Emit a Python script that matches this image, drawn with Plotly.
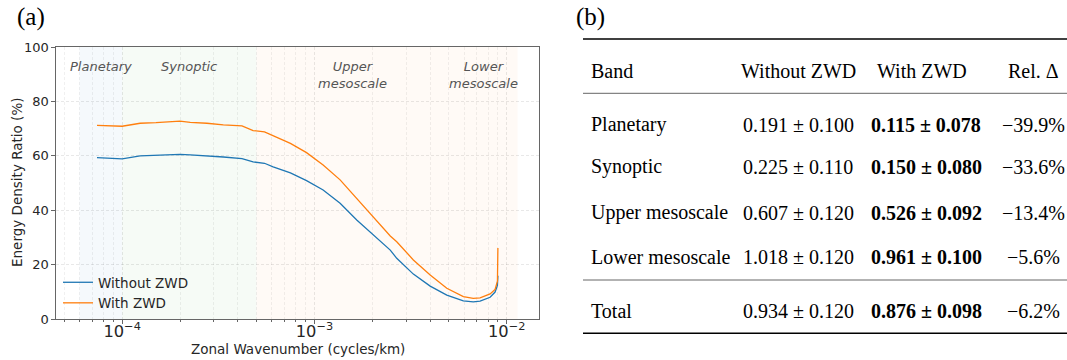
import math
import plotly.graph_objects as go

# ---------------- data (panel a) ----------------
wavenumber = [7.4e-5, 1.0e-4, 1.24e-4, 1.5e-4, 2.0e-4, 2.26e-4, 2.76e-4, 3.36e-4, 4.2e-4,
              4.8e-4, 5.5e-4, 6.1e-4, 7.5e-4, 9.1e-4, 1.11e-3, 1.36e-3, 1.66e-3, 2.03e-3,
              2.2e-3, 2.48e-3, 2.68e-3, 3.27e-3, 4.0e-3, 4.88e-3, 5.95e-3, 6.7e-3, 7.27e-3,
              8.2e-3, 8.7e-3, 8.95e-3, 9.0e-3]
ratio_without = [59.4, 58.9, 60.0, 60.3, 60.6, 60.4, 60.1, 59.6, 59.0,
                 57.8, 57.3, 56.0, 53.8, 50.9, 47.5, 42.6, 36.5, 31.0,
                 28.9, 25.4, 22.4, 16.6, 12.2, 8.9, 6.8, 6.4, 6.7,
                 8.1, 10.0, 12.5, 16.0]
ratio_with = [71.2, 70.9, 72.0, 72.2, 72.8, 72.3, 72.0, 71.4, 71.0,
              69.3, 68.8, 67.4, 64.6, 61.2, 56.7, 51.2, 44.4, 37.7,
              35.0, 30.6, 28.5, 21.8, 16.3, 11.4, 8.3, 7.7, 7.9,
              9.3, 11.0, 14.0, 26.2]

band_labels = ["Planetary", "Synoptic", "Upper<br>mesoscale", "Lower<br>mesoscale"]
band_edges = [6e-5, 1e-4, 5e-4, 5e-3, 1.14e-2]
band_fills = ["rgba(31,119,180,0.045)", "rgba(44,160,44,0.045)",
              "rgba(255,127,14,0.035)", "rgba(255,127,14,0.035)"]

y_ticks = [0, 20, 40, 60, 80, 100]
x_title = "Zonal Wavenumber (cycles/km)"
y_title = "Energy Density Ratio (%)"

# ---------------- data (panel b) ----------------
table_bands = ["Planetary", "Synoptic", "Upper mesoscale", "Lower mesoscale", "Total"]
without_mean = [0.191, 0.225, 0.607, 1.018, 0.934]
without_std = [0.100, 0.110, 0.120, 0.120, 0.120]
with_mean = [0.115, 0.150, 0.526, 0.961, 0.876]
with_std = [0.078, 0.080, 0.092, 0.100, 0.098]
rel_delta = [-39.9, -33.6, -13.4, -5.6, -6.2]
table_headers = ["Band", "Without ZWD", "With ZWD", "Rel. Δ"]

W, H = 1067, 360
def px(x):
    return x / W
def py(y):
    return 1 - y / H

fig = go.Figure()

fig.add_trace(go.Scatter(x=wavenumber, y=ratio_without, mode="lines", name="Without ZWD",
                         line=dict(color="#1f77b4", width=1.3)))
fig.add_trace(go.Scatter(x=wavenumber, y=ratio_with, mode="lines", name="With ZWD",
                         line=dict(color="#ff7f0e", width=1.3)))

shapes = []
annotations = []
for i in range(len(band_labels)):
    shapes.append(dict(type="rect", xref="x", yref="y", x0=band_edges[i], x1=band_edges[i + 1],
                       y0=0, y1=100, fillcolor=band_fills[i], line=dict(width=0), layer="below"))
    gm = math.log10(math.sqrt(band_edges[i] * band_edges[i + 1]))
    annotations.append(dict(x=gm, y=96.2, xref="x", yref="y", text="<i>" + band_labels[i] + "</i>",
                            showarrow=False, xanchor="center", yanchor="top",
                            font=dict(family="DejaVu Sans", size=13, color="#555555")))

# axis titles
annotations.append(dict(x=px(297.5), y=py(348.5), xref="paper", yref="paper", text=x_title, showarrow=False,
                        xanchor="center", yanchor="middle", font=dict(family="DejaVu Sans", size=13.5, color="#262626")))
annotations.append(dict(x=px(17), y=py(183), xref="paper", yref="paper", text=y_title, showarrow=False,
                        textangle=-90, xanchor="center", yanchor="middle",
                        font=dict(family="DejaVu Sans", size=13.5, color="#262626")))

serif = "Liberation Serif"
fs = 20
annotations.append(dict(x=px(31), y=py(17), xref="paper", yref="paper", text="(a)", showarrow=False,
                        xanchor="center", yanchor="middle", font=dict(family=serif, size=25, color="black")))
annotations.append(dict(x=px(590), y=py(17), xref="paper", yref="paper", text="(b)", showarrow=False,
                        xanchor="center", yanchor="middle", font=dict(family=serif, size=25, color="black")))

# table rules
shapes.append(dict(type="line", xref="paper", yref="paper", x0=px(583), x1=px(1067), y0=py(39), y1=py(39),
                   line=dict(color="black", width=1.4)))
shapes.append(dict(type="line", xref="paper", yref="paper", x0=px(583), x1=px(1067), y0=py(93.3), y1=py(93.3),
                   line=dict(color="#555555", width=0.9)))
shapes.append(dict(type="line", xref="paper", yref="paper", x0=px(583), x1=px(1067), y0=py(280), y1=py(280),
                   line=dict(color="#555555", width=0.9)))
shapes.append(dict(type="line", xref="paper", yref="paper", x0=px(583), x1=px(1067), y0=py(333.3), y1=py(333.3),
                   line=dict(color="black", width=1.4)))

col_x = [589, 798, 926, 1033]
col_anchor = ["left", "center", "center", "center"]
header_x = [589, 798, 921.7, 1033]

def txt(x, y, s, anchor):
    annotations.append(dict(x=px(x), y=py(y), xref="paper", yref="paper", text=s, showarrow=False,
                            xanchor=anchor, yanchor="middle", font=dict(family=serif, size=fs, color="black")))

hy = 71.5
for j, h in enumerate(table_headers):
    txt(header_x[j], hy, h, col_anchor[j])

row_y = [124.5, 166.5, 212.5, 256.5, 311]
for i, b in enumerate(table_bands):
    y = row_y[i]
    txt(col_x[0], y, b, "left")
    txt(col_x[1], y, f"{without_mean[i]:.3f} ± {without_std[i]:.3f}", "center")
    txt(col_x[2], y, f"<b>{with_mean[i]:.3f} ± {with_std[i]:.3f}</b>", "center")
    txt(col_x[3], y, f"{rel_delta[i]:.1f}%".replace("-", "−"), "center")

grid_col = "rgba(0,0,0,0.09)"
fig.update_layout(
    width=W, height=H, margin=dict(l=0, r=0, t=0, b=0, autoexpand=False),
    paper_bgcolor="white", plot_bgcolor="white",
    font=dict(family="DejaVu Sans", size=13, color="#262626"),
    shapes=shapes, annotations=annotations,
    xaxis=dict(type="log", domain=[px(56), px(539)], range=[-4.344, -1.832], automargin=False,
               dtick=1, exponentformat="power", showexponent="all",
               showline=True, linecolor="#666666", linewidth=1.2, mirror=True,
               ticks="outside", ticklen=3.5, tickcolor="#666666", ticklabelstandoff=-6,
               showgrid=True, gridcolor=grid_col, griddash="3px,2px", gridwidth=0.8,
               minor=dict(dtick="D1", showgrid=True, gridcolor="rgba(0,0,0,0.06)", griddash="3px,2px",
                          ticks="outside", ticklen=2, tickcolor="#666666"),
               tickfont=dict(size=13), zeroline=False),
    yaxis=dict(domain=[py(319.3), py(47)], range=[0, 100], tickvals=y_ticks, automargin=False,
               showline=True, linecolor="#666666", linewidth=1.2, mirror=True,
               ticks="outside", ticklen=3.5, tickcolor="#666666",
               showgrid=True, gridcolor=grid_col, griddash="3px,2px", gridwidth=0.8,
               tickfont=dict(size=13), zeroline=False),
    legend=dict(x=px(58), y=py(267), xanchor="left", yanchor="top", bgcolor="rgba(0,0,0,0)",
                font=dict(size=13.5), itemwidth=30, tracegroupgap=0),
    showlegend=True,
)

fig.write_html("out.html")
